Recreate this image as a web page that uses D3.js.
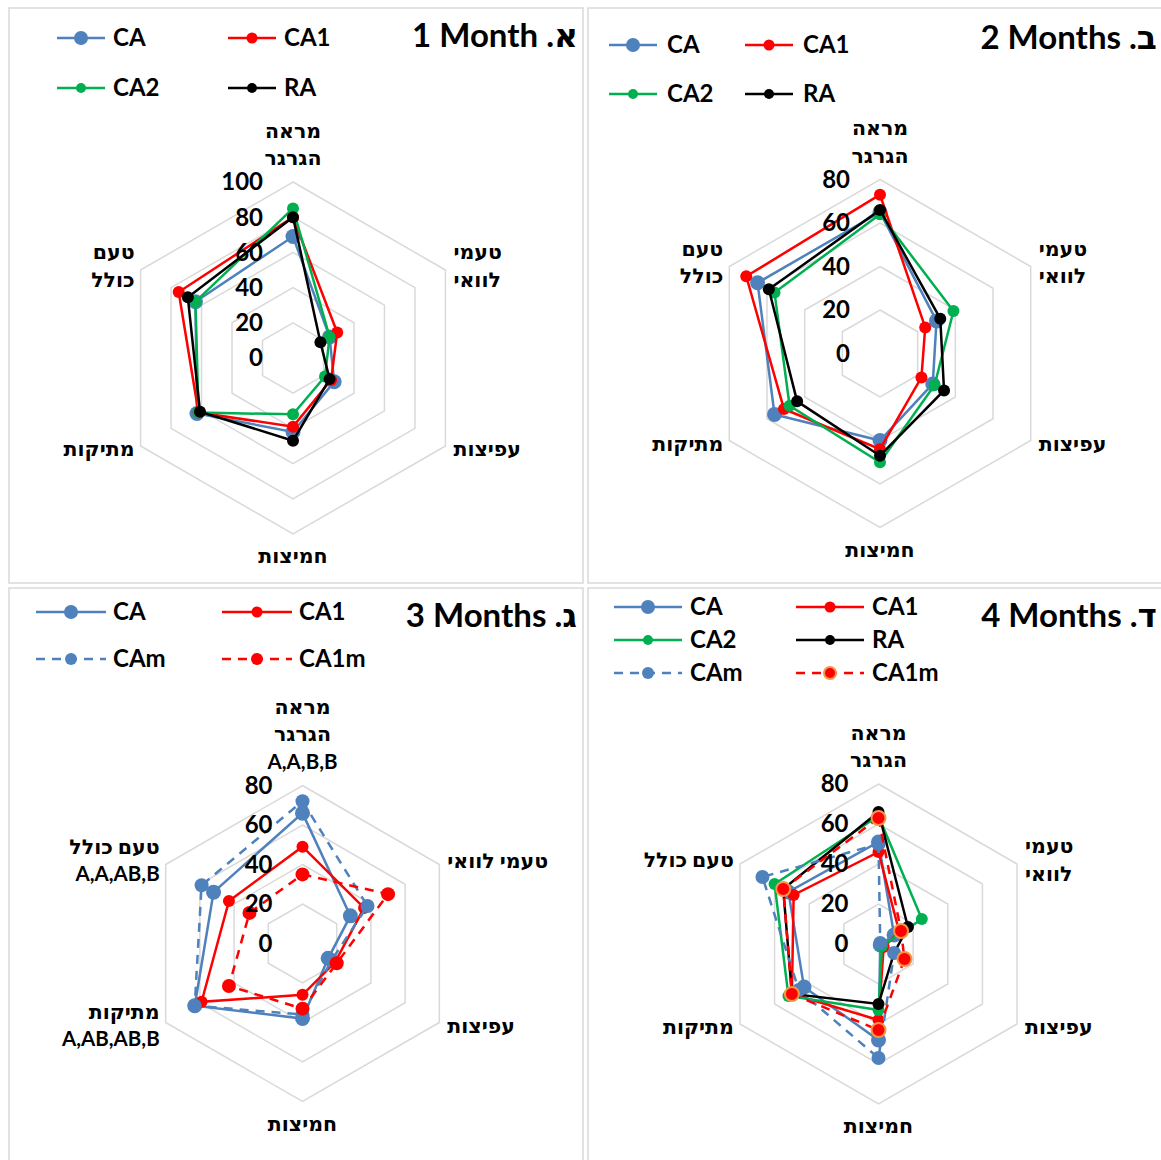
<!DOCTYPE html>
<html>
<head>
<meta charset="utf-8">
<script src="https://cdn.jsdelivr.net/npm/d3@7"></script>
<style>
  body { margin: 0; background: #fff; }
  svg text { font-family: Lato, "DejaVu Sans", sans-serif; font-weight: bold; fill: #000; }
</style>
</head>
<body>
<svg id="chart" width="1161" height="1160"></svg>
<script>

// axis order, clockwise from the top
var axes = ['מראה הגרגר', 'טעמי לוואי', 'עפיצות', 'חמיצות', 'מתיקות', 'טעם כולל'];

var titles = ['1 Month .א', '2 Months .ב', '3 Months .ג', '4 Months .ד'];

var ticks100 = [0, 20, 40, 60, 80, 100];
var ticks80 = [0, 20, 40, 60, 80];

// axis labels as they are broken into lines in each panel
var labels1 = [['מראה', 'הגרגר'], ['טעמי', 'לוואי'], ['עפיצות'], ['חמיצות'], ['מתיקות'], ['טעם', 'כולל']];
var labels3 = [['מראה', 'הגרגר', 'A,A,B,B'], ['טעמי לוואי'], ['עפיצות'], ['חמיצות'], ['מתיקות', 'A,AB,AB,B'], ['טעם כולל', 'A,A,AB,B']];
var labels4 = [['מראה', 'הגרגר'], ['טעמי', 'לוואי'], ['עפיצות'], ['חמיצות'], ['מתיקות'], ['טעם כולל']];

// א. 1 month
var m1CA  = [69, 24, 27, 42, 63, 64];
var m1CA1 = [80, 29, 25, 39, 62, 75];
var m1CA2 = [85, 24, 21, 32, 62, 64];
var m1RA  = [80, 18, 24, 47, 61, 69];

// ב. 2 months
var m2CA  = [65, 30, 28, 40, 56, 65];
var m2CA1 = [73, 24, 22, 44, 51, 71];
var m2CA2 = [64, 39, 29, 50, 48, 56];
var m2RA  = [66, 32, 34, 47, 44, 59];

// ג. 3 months
var m3CA   = [66, 28, 15, 38, 63, 52];
var m3CA1  = [49, 36, 19, 26, 59, 43];
var m3CAm  = [72, 38, 17, 36, 63, 59];
var m3CA1m = [35, 50, 20, 33, 43, 31];

// ד. 4 months
var m4CA   = [51, 9, 1, 48, 43, 52];
var m4CA1  = [46, 12, 3, 38, 50, 49];
var m4CA2  = [64, 25, 2, 33, 52, 60];
var m4RA   = [66, 17, 9, 30, 50, 55];
var m4CAm  = [50, 1, 9, 57, 46, 67];
var m4CA1m = [63, 13, 15, 43, 50, 55];

var style = {
  CA:   {color: '#4F81BD', r: 7.5, lr: 7},
  CA1:  {color: '#FF0000', r: 6, lr: 5.5},
  CA2:  {color: '#00B050', r: 6, lr: 5},
  RA:   {color: '#000000', r: 6, lr: 5},
  CAm:  {color: '#4F81BD', r: 7, lr: 6, dash: '9,7'},
  CA1m: {color: '#FF0000', r: 7, lr: 6, dash: '9,7'}
};

var panels = [
  {box: [9, 8, 574, 575], cx: 293, cy: 358, R: 176, ticks: ticks100, labels: labels1,
   title: titles[0], titleX: 578, titleY: 47,
   legend: {cols: [57, 228], rows: [38, 88], len: 48, gap: 8},
   series: [['CA', m1CA], ['CA1', m1CA1], ['CA2', m1CA2], ['RA', m1RA]]},
  {box: [588, 8, 575, 575], cx: 880, cy: 353.5, R: 174, ticks: ticks80, labels: labels1,
   title: titles[1], titleX: 1157, titleY: 49,
   legend: {cols: [609, 745], rows: [45, 94], len: 48, gap: 10},
   series: [['CA', m2CA], ['CA1', m2CA1], ['CA2', m2CA2], ['RA', m2RA]]},
  {box: [9, 588, 574, 575], cx: 302.5, cy: 943.5, R: 158, ticks: ticks80, labels: labels3,
   title: titles[2], titleX: 577, titleY: 627,
   legend: {cols: [36, 222], rows: [612, 659], len: 70, gap: 7},
   series: [['CA', m3CA], ['CA1', m3CA1], ['CAm', m3CAm], ['CA1m', m3CA1m]]},
  {box: [588, 588, 575, 575], cx: 878.5, cy: 944, R: 160, ticks: ticks80, labels: labels4,
   title: titles[3], titleX: 1157, titleY: 627, ringed: 'CA1m',
   legend: {cols: [614, 796], rows: [607, 640, 673], len: 68, gap: 8},
   series: [['CA', m4CA], ['CA1', m4CA1], ['CA2', m4CA2], ['RA', m4RA], ['CAm', m4CAm], ['CA1m', m4CA1m]]}
];

var svg = d3.select('#chart');
var angle = d3.scaleLinear().domain([0, axes.length]).range([0, 2 * Math.PI]);

panels.forEach(function (p) {
  var g = svg.append('g');

  g.append('rect')
    .attr('x', p.box[0]).attr('y', p.box[1])
    .attr('width', p.box[2]).attr('height', p.box[3])
    .attr('fill', 'none').attr('stroke', '#d9d9d9').attr('stroke-width', 1.5);

  var max = d3.max(p.ticks);
  var r = d3.scaleLinear().domain([0, max]).range([0, p.R]);

  function pt(i, v) {
    var a = angle(i);
    return [p.cx + r(v) * Math.sin(a), p.cy - r(v) * Math.cos(a)];
  }

  // hexagon rings
  p.ticks.filter(function (t) { return t > 0; }).forEach(function (t) {
    g.append('polygon')
      .attr('points', axes.map(function (a, i) { return pt(i, t).join(','); }).join(' '))
      .attr('fill', 'none').attr('stroke', '#d9d9d9').attr('stroke-width', 1.5);
  });

  // series
  p.series.forEach(function (s) {
    var st = style[s[0]];
    var line = d3.line().curve(d3.curveLinearClosed);
    var pts = s[1].map(function (v, i) { return pt(i, v); });
    var sg = g.append('g');
    sg.append('path')
      .attr('d', line(pts))
      .attr('fill', 'none')
      .attr('stroke', st.color)
      .attr('stroke-width', 2.5)
      .attr('stroke-dasharray', st.dash || null);
    sg.selectAll('circle').data(pts).enter().append('circle')
      .attr('cx', function (d) { return d[0]; })
      .attr('cy', function (d) { return d[1]; })
      .attr('r', st.r)
      .attr('fill', st.color)
      .attr('stroke', p.ringed === s[0] ? '#F79646' : 'none')
      .attr('stroke-width', 2);
  });

  // tick labels
  g.selectAll('text.tick').data(p.ticks).enter().append('text')
    .attr('class', 'tick')
    .attr('x', p.cx - 30)
    .attr('y', function (t) { return p.cy - r(t); })
    .attr('dy', '0.35em')
    .attr('text-anchor', 'end')
    .attr('font-size', 24)
    .text(function (t) { return t; });

  // axis labels
  var lh = 27.5;
  p.labels.forEach(function (lines, i) {
    var v = pt(i, max);
    var anchor, x, y0;
    if (i === 0) {
      anchor = 'middle'; x = v[0];
      y0 = v[1] - 24 - (lines.length - 1) * lh;
    } else if (i === 3) {
      anchor = 'middle'; x = v[0]; y0 = v[1] + 22;
    } else {
      anchor = (i < 3) ? 'start' : 'end';
      x = (i < 3) ? v[0] + 8 : v[0] - 6;
      y0 = v[1] - (lines.length - 1) * lh / 2 + ((i === 1 || i === 5) ? -4 : 3);
    }
    var t = g.append('text')
      .attr('text-anchor', anchor)
      .attr('font-size', 20.5);
    lines.forEach(function (l, k) {
      t.append('tspan')
        .attr('x', x)
        .attr('y', y0 + k * lh)
        .attr('dy', '0.35em')
        .text(l);
    });
  });

  // legend
  var lg = p.legend;
  p.series.forEach(function (s, k) {
    var st = style[s[0]];
    var x0 = lg.cols[k % 2], y = lg.rows[Math.floor(k / 2)];
    var item = g.append('g');
    item.append('line')
      .attr('x1', x0).attr('x2', x0 + lg.len)
      .attr('y1', y).attr('y2', y)
      .attr('stroke', st.color).attr('stroke-width', 2.5)
      .attr('stroke-dasharray', st.dash || null);
    item.append('circle')
      .attr('cx', x0 + lg.len / 2).attr('cy', y)
      .attr('r', st.lr)
      .attr('fill', st.color)
      .attr('stroke', p.ringed === s[0] ? '#F79646' : 'none')
      .attr('stroke-width', 2);
    item.append('text')
      .attr('x', x0 + lg.len + lg.gap)
      .attr('y', y)
      .attr('dy', '0.35em')
      .attr('font-size', 24)
      .text(s[0]);
  });

  // title
  g.append('text')
    .attr('x', p.titleX)
    .attr('y', p.titleY)
    .attr('text-anchor', 'end')
    .attr('font-size', 33)
    .text(p.title);
});

</script>
</body>
</html>
